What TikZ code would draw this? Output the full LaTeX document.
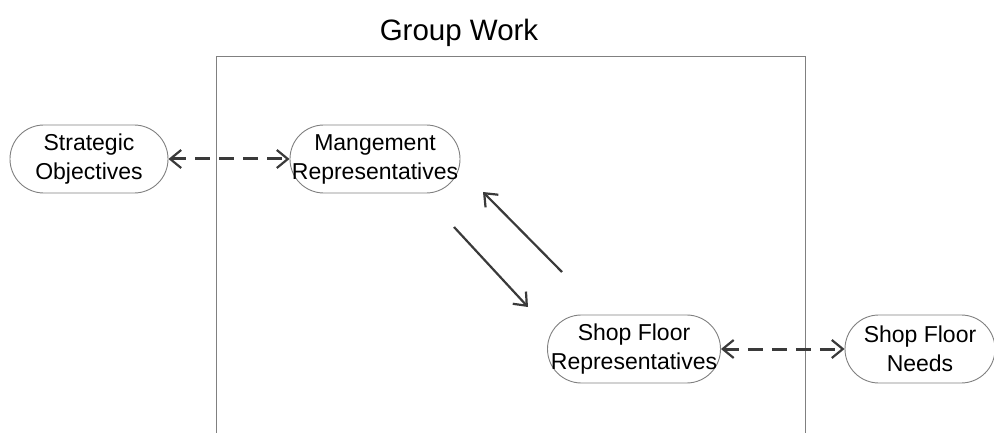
\documentclass[tikz,border=0pt]{standalone}
\usepackage{fontspec}
\setmainfont{Liberation Sans}
\usetikzlibrary{arrows.meta}
\definecolor{edgegray}{HTML}{808080}
\definecolor{linkgray}{HTML}{3A3A3A}
% centred line that may run past the node's outline
\newcommand{\pline}[1]{\makebox[120pt][c]{#1}}
\tikzset{
  pill/.style={rectangle, rounded corners=33.9pt, draw=edgegray, line width=0.9pt, fill=white,
    minimum width=158pt, minimum height=68pt, inner sep=0pt, align=center,
    font=\fontsize{23}{29}\selectfont},
  >={Straight Barb[length=11pt,width=18pt,line width=2.2pt]},
  dashlink/.style={linkgray, line width=3pt, dash pattern=on 15pt off 9pt, <->},
  solidlink/.style={linkgray, line width=2.2pt, ->},
  frame/.style={edgegray, line width=1pt}
}
\begin{document}
\begin{tikzpicture}[x=1pt,y=-1pt]
\useasboundingbox (0,0) rectangle (994,433);
% group frame, open at the bottom
\draw[frame] (216,440) -- (216,57) -- (805,57) -- (805,440);
\node[font=\fontsize{29.5}{32}\selectfont, anchor=base] (title) at (459,41) {Group Work};

\node[pill] (strat) at (89,159) {\pline{Strategic}\\\pline{Objectives}};
\node[pill, minimum width=170pt] (mgmt) at (375,159) {\pline{Mangement}\\\pline{Representatives}};
\node[pill, minimum width=173pt] (shoprep) at (634,349) {\pline{Shop Floor}\\\pline{Representatives}};
\node[pill, minimum width=150pt] (needs) at (920,349) {\pline{Shop Floor}\\\pline{Needs}};

\draw[dashlink] (strat.east) -- (mgmt.west);
\draw[dashlink] (shoprep.east) -- (needs.west);

% two-way exchange between the representatives
\coordinate (upfrom) at (562,272);
\coordinate (upto) at (483,192);
\coordinate (downfrom) at (454,227);
\coordinate (downto) at (528,307);
\draw[solidlink] (upfrom) -- (upto);
\draw[solidlink] (downfrom) -- (downto);
\end{tikzpicture}
\end{document}
